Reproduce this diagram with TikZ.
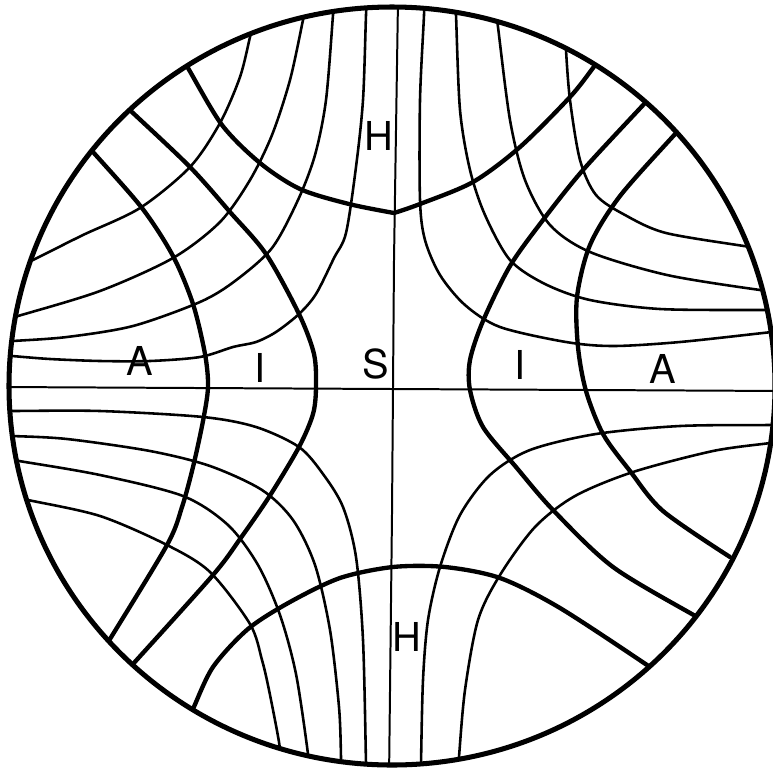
\documentclass[tikz,border=0pt]{standalone}
\usepackage{fontspec}
\setmainfont{TeX Gyre Heros}
\definecolor{lineink}{HTML}{000000}
\tikzset{
  rim/.style={line width=4.3pt, color=lineink},
  fam/.style={line width=3.7pt, color=lineink, line cap=round},
  fld/.style={line width=2.2pt, color=lineink},
  ax/.style={line width=1.7pt, color=lineink},
  lbl/.style={font=\fontsize{34}{34}\selectfont, inner sep=0pt, text=lineink},
}

\begin{document}
\begin{tikzpicture}[x=0.3mm, y=-0.3mm]
  \useasboundingbox (0,0) rectangle (773,767);
  \begin{scope}
    \clip (392,386) ellipse [x radius=383, y radius=379];
    % axes
    \draw[ax] (0,387) -- (785,391);
    \draw[ax] (398,0) -- (394,260) -- (392,514) -- (389,780);
    % thin lines, upper left
    \draw[fld] plot[smooth] coordinates {(367,0) (366,15) (363,100) (356,167) (346,233) (334,258) (316,294) (299,314) (276,332) (256,342) (233,347) (200,357) (150,361) (100,361) (50,359) (12,356) (0,355)};
    \draw[fld] plot[smooth] coordinates {(334,0) (333,15) (326,100) (315,155) (298,200) (272,248) (235,281) (200,302) (133,326) (67,337) (13,341) (0,342)};
    \draw[fld] plot[smooth] coordinates {(306,5) (303,20) (290,80) (272,135) (250,180) (220,222) (173,258) (100,291) (18,316) (0,321)};
    \draw[fld] plot[smooth] coordinates {(254,20) (250,37) (240,77) (220,123) (190,167) (140,208) (83,235) (37,258) (20,266)};
    % thin lines, upper right
    \draw[fld] plot[smooth] coordinates {(424,0) (424,15) (420,100) (420,200) (425,240) (440,275) (465,305) (500,327) (566,342) (613,346) (680,342) (772,332) (785,331)};
    \draw[fld] plot[smooth] coordinates {(455,0) (456,15) (460,110) (470,170) (485,215) (510,260) (545,284) (590,300) (660,309) (762,310) (785,310)};
    \draw[fld] plot[smooth] coordinates {(496,10) (498,27) (510,120) (525,180) (550,225) (590,252) (667,275) (760,290) (785,292)};
    \draw[fld] plot[smooth] coordinates {(566,35) (566,50) (570,100) (580,160) (596,195) (625,215) (666,233) (750,247) (770,251)};
    % thin lines, lower right
    \draw[fld] plot[smooth] coordinates {(421,780) (421,764) (423,680) (428,620) (440,567) (460,515) (490,475) (530,450) (596,434) (680,426) (772,425) (785,425)};
    \draw[fld] plot[smooth] coordinates {(458,775) (459,757) (465,690) (478,620) (500,575) (535,527) (575,496) (633,472) (713,451) (770,443) (785,440)};
    % thin lines, lower left
    \draw[fld] plot[smooth] coordinates {(0,411) (12,411) (100,411) (203,417) (256,427) (299,447) (323,474) (343,507) (356,557) (363,640) (366,764) (366,780)};
    \draw[fld] plot[smooth] coordinates {(0,436) (12,436) (67,439) (150,451) (210,466) (262,490) (293,520) (315,565) (330,630) (339,707) (341,757) (341,775)};
    \draw[fld] plot[smooth] coordinates {(0,458) (19,461) (100,475) (183,496) (228,525) (258,565) (280,615) (296,674) (308,754) (309,775)};
    \draw[fld] plot[smooth] coordinates {(10,496) (28,500) (100,516) (167,545) (210,572) (250,624) (262,660) (269,690) (279,742) (281,765)};
    % thick lines
    \draw[fam] plot[smooth] coordinates {(180,55) (188,68) (222,125) (260,163) (300,189) (349,204) (394,213)};
    \draw[fam] plot[smooth] coordinates {(394,213) (420,204) (473,182) (520,147) (570,97) (593,68) (602,56)};
    \draw[fam] plot[smooth] coordinates {(122,103) (133,113) (190,167) (230,212) (266,254) (299,314) (314,354) (316,387) (313,414) (299,447) (269,497) (240,539) (213,575) (133,664) (122,676)};
    \draw[fam] plot[smooth] coordinates {(82,140) (93,152) (142,208) (173,256) (193,304) (205,354) (208,387) (203,421) (193,467) (182,507) (167,545) (110,639) (100,655)};
    \draw[fam] plot[smooth] coordinates {(655,92) (645,103) (583,170) (543,220) (510,266) (483,321) (470,360) (470,390) (483,427) (516,467) (553,510) (613,567) (697,617) (712,626)};
    \draw[fam] plot[smooth] coordinates {(686,122) (676,133) (620,196) (590,245) (577,297) (578,347) (586,391) (603,434) (630,471) (663,511) (730,557)};
    \draw[fam] plot[smooth] coordinates {(187,722) (193,709) (213,667) (248,629) (290,602) (340,578) (393,567) (445,567) (500,578) (560,608) (650,667) (662,676)};
  \end{scope}
  \draw[rim] (392,386) ellipse [x radius=383, y radius=379];
  % labels
  \node[lbl] (htop) at (379,136) {H};
  \node[lbl] (hbot) at (407,637) {H};
  \node[lbl] (aleft) at (140,361) {A};
  \node[lbl] (ileft) at (260,368) {I};
  \node[lbl] (smid) at (376,364) {S};
  \node[lbl] (iright) at (520,365) {I};
  \node[lbl] (aright) at (663,369) {A};
\end{tikzpicture}
\end{document}
